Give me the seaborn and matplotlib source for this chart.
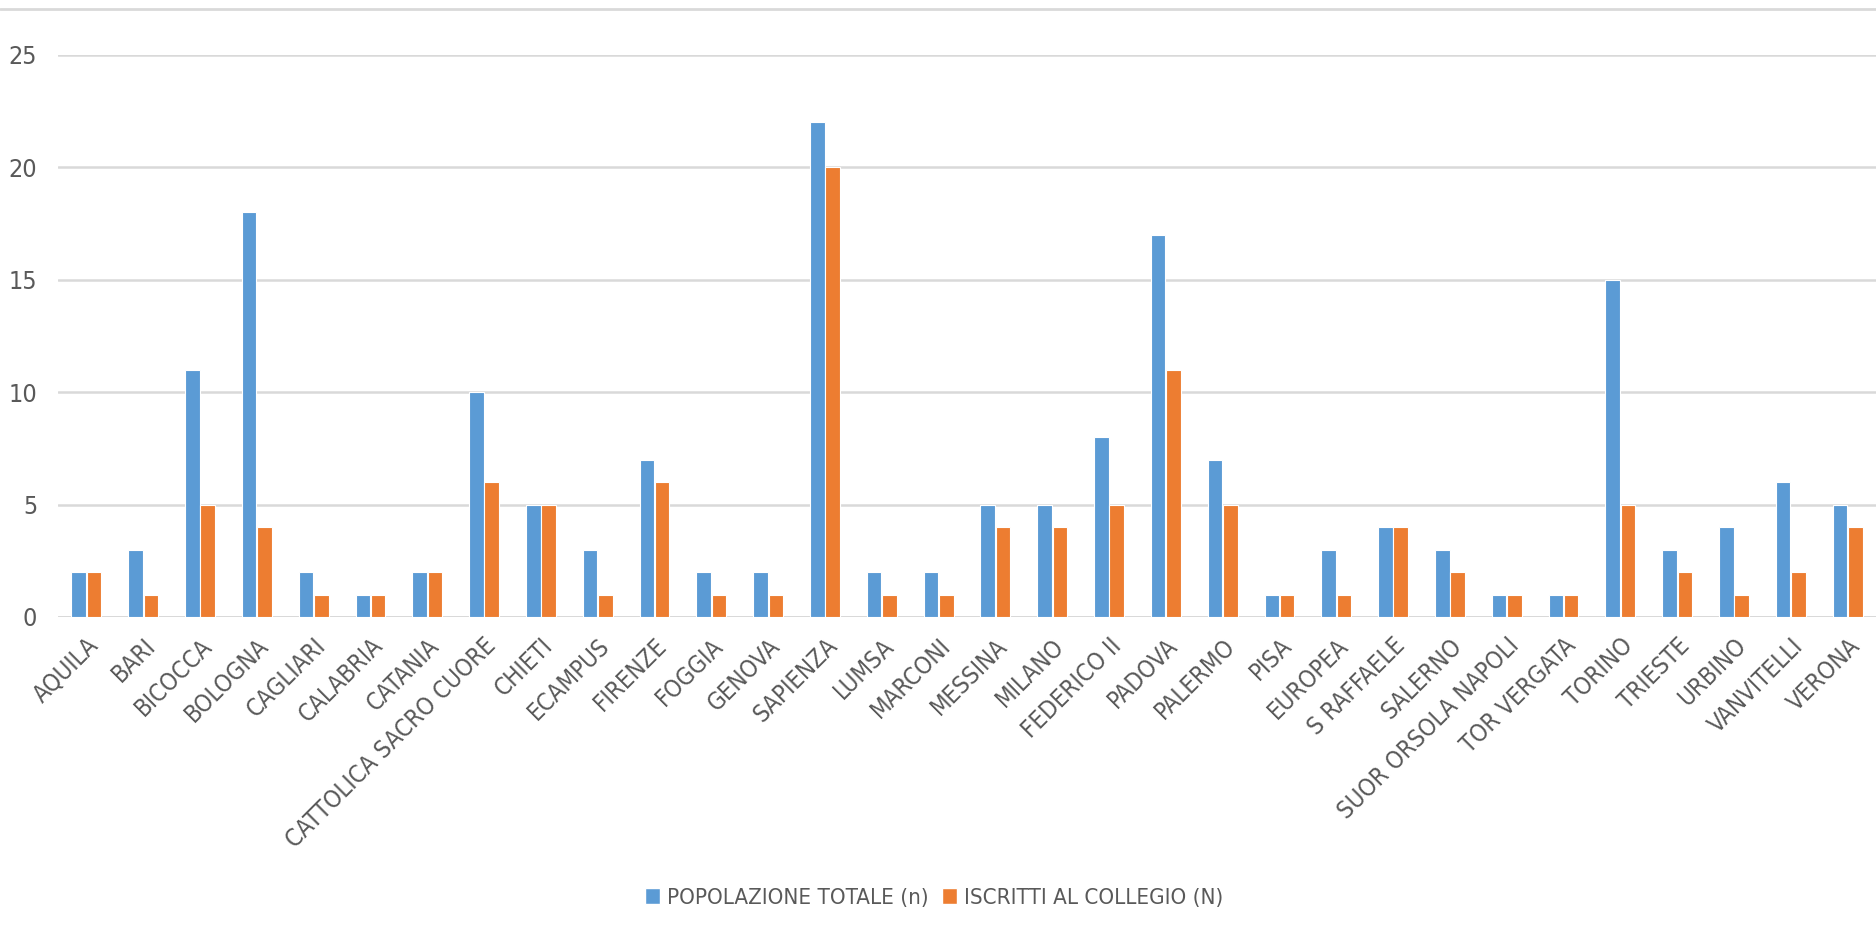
import matplotlib
matplotlib.use("Agg")
import matplotlib.pyplot as plt
import seaborn as sns
import pandas as pd
from matplotlib.patches import Patch
from matplotlib.lines import Line2D

categories = ["AQUILA", "BARI", "BICOCCA", "BOLOGNA", "CAGLIARI", "CALABRIA", "CATANIA",
              "CATTOLICA SACRO CUORE", "CHIETI", "ECAMPUS", "FIRENZE", "FOGGIA", "GENOVA",
              "SAPIENZA", "LUMSA", "MARCONI", "MESSINA", "MILANO", "FEDERICO II", "PADOVA",
              "PALERMO", "PISA", "EUROPEA", "S RAFFAELE", "SALERNO", "SUOR ORSOLA NAPOLI",
              "TOR VERGATA", "TORINO", "TRIESTE", "URBINO", "VANVITELLI", "VERONA"]
popolazione = [2, 3, 11, 18, 2, 1, 2, 10, 5, 3, 7, 2, 2, 22, 2, 2, 5, 5, 8, 17,
               7, 1, 3, 4, 3, 1, 1, 15, 3, 4, 6, 5]
iscritti = [2, 1, 5, 4, 1, 1, 2, 6, 5, 1, 6, 1, 1, 20, 1, 1, 4, 4, 5, 11,
            5, 1, 1, 4, 2, 1, 1, 5, 2, 1, 2, 4]
series_names = ["POPOLAZIONE TOTALE (n)", "ISCRITTI AL COLLEGIO (N)"]
yticks = [0, 5, 10, 15, 20, 25]

sns.set_style("white")
plt.rcParams['font.family'] = ['DejaVu Sans']
plt.rcParams['font.stretch'] = 'condensed'

df = pd.DataFrame({
    "cat": categories * 2,
    "val": popolazione + iscritti,
    "serie": [series_names[0]] * len(categories) + [series_names[1]] * len(categories),
})

colors = ["#5B9BD5", "#ED7D31"]
W, H = 1876, 939
fig = plt.figure(figsize=(W / 100, H / 100), dpi=100)
ax = fig.add_axes([58 / W, 1 - 617 / H, (W - 58) / W, (617 - 55) / H])

sns.barplot(data=df, x="cat", y="val", hue="serie", palette=colors, ax=ax,
            width=0.54, gap=0.05, edgecolor="white", linewidth=0.8, legend=False,
            saturation=1)

ax.set_ylim(0, 25)
ax.set_xlim(-0.5, len(categories) - 0.5)
ax.set_yticks(yticks)
ax.set_yticklabels([str(t) for t in yticks])
ax.yaxis.grid(True, color="#D9D9D9", linewidth=1.8)
ax.set_axisbelow(True)
for s in ["top", "right", "left", "bottom"]:
    ax.spines[s].set_visible(False)
ax.axhline(0, color="#D9D9D9", linewidth=2, zorder=0.5)
ax.set_xlabel("")
ax.set_ylabel("")
ax.tick_params(axis="y", length=0, pad=15, labelsize=18, labelcolor="#595959")
ax.tick_params(axis="x", length=0, pad=12, labelsize=17.3, labelcolor="#595959")
for lbl in ax.get_xticklabels():
    lbl.set_rotation(45)
    lbl.set_ha("right")
    lbl.set_rotation_mode("anchor")

# chart top border
fig.add_artist(Line2D([0, 1], [1 - 9 / H, 1 - 9 / H], transform=fig.transFigure,
                      color="#D9D9D9", linewidth=2))

handles = [Patch(facecolor=colors[0], edgecolor="white", label=series_names[0]),
           Patch(facecolor=colors[1], edgecolor="white", label=series_names[1])]
fig.legend(handles=handles, loc="center", bbox_to_anchor=(934 / W, 1 - 898 / H),
           ncol=2, frameon=False, fontsize=16, handlelength=0.7, handleheight=0.7,
           handletextpad=0.3, columnspacing=0.6, labelcolor="#595959")

fig.savefig("out.png", dpi=100)
